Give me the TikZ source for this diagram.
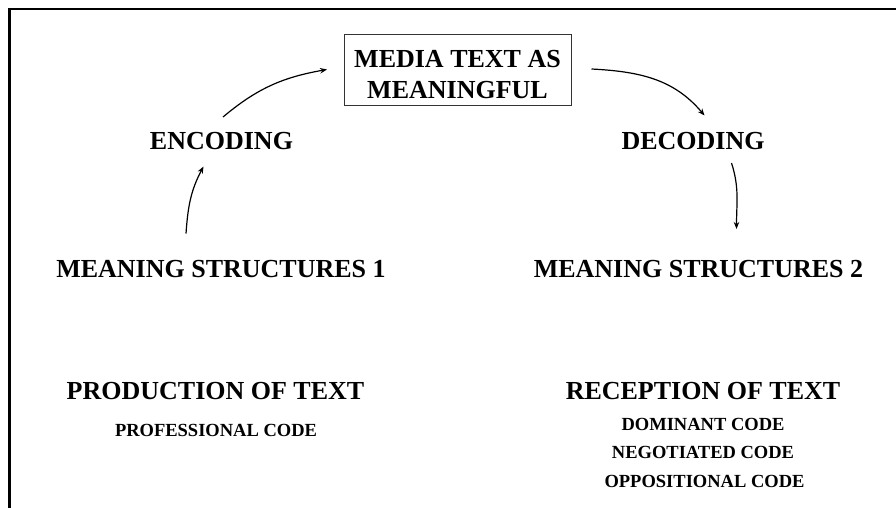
\documentclass[tikz,border=0pt]{standalone}
\usepackage{fontspec}
\setmainfont{Liberation Serif}
\usetikzlibrary{arrows.meta}
\begin{document}
\begin{tikzpicture}[x=1pt,y=1pt,
  big/.style={font=\bfseries\fontsize{26}{31.5}\selectfont, inner sep=0pt, anchor=base},
  small/.style={font=\bfseries\fontsize{18.5}{22}\selectfont, inner sep=0pt, anchor=base},
  mediabox/.style={draw=black!80, line width=1pt, minimum width=227pt, minimum height=71pt, inner sep=0pt},
  flow/.style={line width=1.2pt, -{Stealth[length=7pt,width=5.5pt]}},
  frame/.style={line width=2.6pt, line join=miter}]
\useasboundingbox (0,0) rectangle (896,-508);
% frame (top and left)
\coordinate (fr1) at (900,-9.2);
\coordinate (fr2) at (9.5,-9.2);
\coordinate (fr3) at (9.5,-512);
\draw[frame] (fr1) -- (fr2) -- (fr3);
% central box
\node[mediabox] (media) at (457.5,-70.5) {};
\node[font=\bfseries\fontsize{26}{31.5}\selectfont, inner sep=0pt, align=center] (mediatext) at (457.5,-74.5) {MEDIA TEXT AS\\MEANINGFUL};
% labels
\node[big] (enc) at (221.5,-149) {ENCODING};
\node[big] (dec) at (693,-149) {DECODING};
\node[big] (ms1) at (221,-277) {MEANING STRUCTURES 1};
\node[big] (ms2) at (698.5,-277) {MEANING STRUCTURES 2};
\node[big] (prod) at (215.5,-399) {PRODUCTION OF TEXT};
\node[small] (prof) at (216,-436) {PROFESSIONAL CODE};
\node[big] (rec) at (703,-399) {RECEPTION OF TEXT};
\node[small] (dom) at (703,-430) {DOMINANT CODE};
\node[small] (neg) at (703,-458) {NEGOTIATED CODE};
\node[small] (opp) at (704.5,-487) {OPPOSITIONAL CODE};
% arrow end points
\coordinate (a1s) at (186,-233.5);
\coordinate (a1e) at (203.5,-166.5);
\coordinate (a2s) at (223,-117);
\coordinate (a2e) at (327,-69.5);
\coordinate (a3s) at (591.5,-69);
\coordinate (a3e) at (704.5,-115.5);
\coordinate (a4s) at (731.5,-163);
\coordinate (a4e) at (736.5,-229);
% connectors
\draw[flow] (a1s) to[out=86,in=-118] (a1e);
\draw[flow] (a2s) to[out=40,in=190] (a2e);
\draw[flow] (a3s) to[out=-3,in=130] (a3e);
\draw[flow] (a4s) to[out=-72,in=90] (a4e);
\end{tikzpicture}
\end{document}
